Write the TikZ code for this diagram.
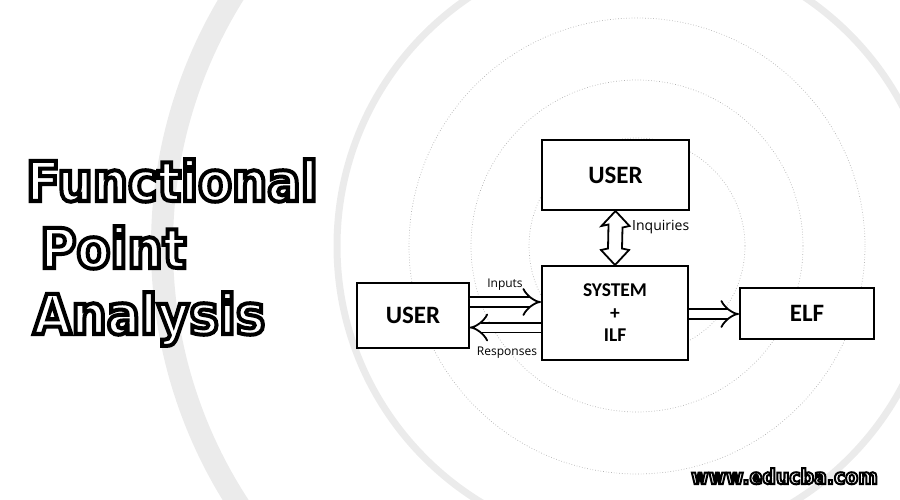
\documentclass[tikz,border=0pt]{standalone}
\usepackage{fontspec}
\setmainfont{Open Sans}
\newfontfamily\boxfont{Carlito}
\newfontfamily\titlefont[FakeStretch=0.9]{DejaVu Sans}
\usetikzlibrary{arrows.meta,calc}
\newcommand{\hollowtext}[2]{\special{pdf:literal direct 2 Tr #1 w 0 G}\textcolor{white}{\special{pdf:literal direct 0 G}#2}\special{pdf:literal direct 0 Tr}}
\begin{document}
\begin{tikzpicture}[x=1pt,y=-1pt,
  box/.style={draw, fill=white, line width=2pt, inner sep=0pt, font=\boxfont\bfseries\fontsize{25}{25}\selectfont},
  hol/.style={double=white, double distance=8pt, line width=1.8pt, -{Implies}},
  blockarrow/.style={draw, fill=white, line width=1.8pt, line join=miter},
  lbl/.style={font=\fontsize{12}{12}\selectfont, inner sep=0pt},
  ring/.style={gray!60, dotted, line width=0.7pt},
  band/.style={gray!16, line width=#1},
  ttl/.style={anchor=base west, inner sep=0pt, font=\titlefont\bfseries\fontsize{55}{55}\selectfont}
]
\useasboundingbox (0,0) rectangle (900,500);
% background rings
\coordinate (c) at (637,246);
\draw[ring] (c) circle[radius=108];
\draw[ring] (c) circle[radius=166];
\draw[ring] (c) circle[radius=228];
\draw[band=7pt] (c) circle[radius=300];
\draw[band=22pt] (c) circle[radius=475];
% title
\node[ttl] (t1) at (26,201) {\hollowtext{4}{Functional}};
\node[ttl] (t2) at (40,268) {\hollowtext{4}{Point}};
\node[ttl] (t3) at (33,334) {\hollowtext{4}{Analysis}};
% boxes
\node[box, minimum width=147pt, minimum height=70pt] (u1) at (615.5,175) {USER};
\node[box, minimum width=146pt, minimum height=94pt, align=center,
      font=\boxfont\bfseries\fontsize{19.5}{22.5}\selectfont] (sys) at (615,313) {SYSTEM\\+\\ILF};
\node[box, line width=1.2pt, minimum width=112pt, minimum height=65pt] (u2) at (413,315.5) {USER};
\node[box, minimum width=134pt, minimum height=51pt] (elf) at (807,313.5) {ELF};
% connectors
\coordinate (yin) at (0,302);
\coordinate (yre) at (0,327.5);
\coordinate (yel) at (0,314);
\draw[hol] (u2.east |- yin) -- (sys.west |- yin);
\draw[hol] (sys.west |- yre) -- (u2.east |- yre);
\draw[hol] (sys.east |- yel) -- (elf.west |- yel);
% Inquiries: hollow double-headed block arrow between u1 and sys
\draw[blockarrow] (u1.south) -- ++(-14,15) -- ++(7,-1.5) -- ($(sys.north)+(-7,-16.5)$)
  -- ++(-7,1.5) -- (sys.north) -- ++(14,-15) -- ++(-7,-1.5) -- ($(u1.south)+(7,16.5)$)
  -- ++(7,-1.5) -- cycle;
% labels
\node[lbl] (lin) at (505,285) {Inputs};
\node[lbl] (lre) at (507,353) {Responses};
\node[lbl, anchor=west, font=\fontsize{14}{14}\selectfont] (liq) at (632,227) {Inquiries};
% watermark
\node[anchor=base west, inner sep=0pt, font=\titlefont\bfseries\fontsize{21}{21}\selectfont] (wm) at (691,484) {\hollowtext{2}{www.educba.com}};
\end{tikzpicture}
\end{document}
